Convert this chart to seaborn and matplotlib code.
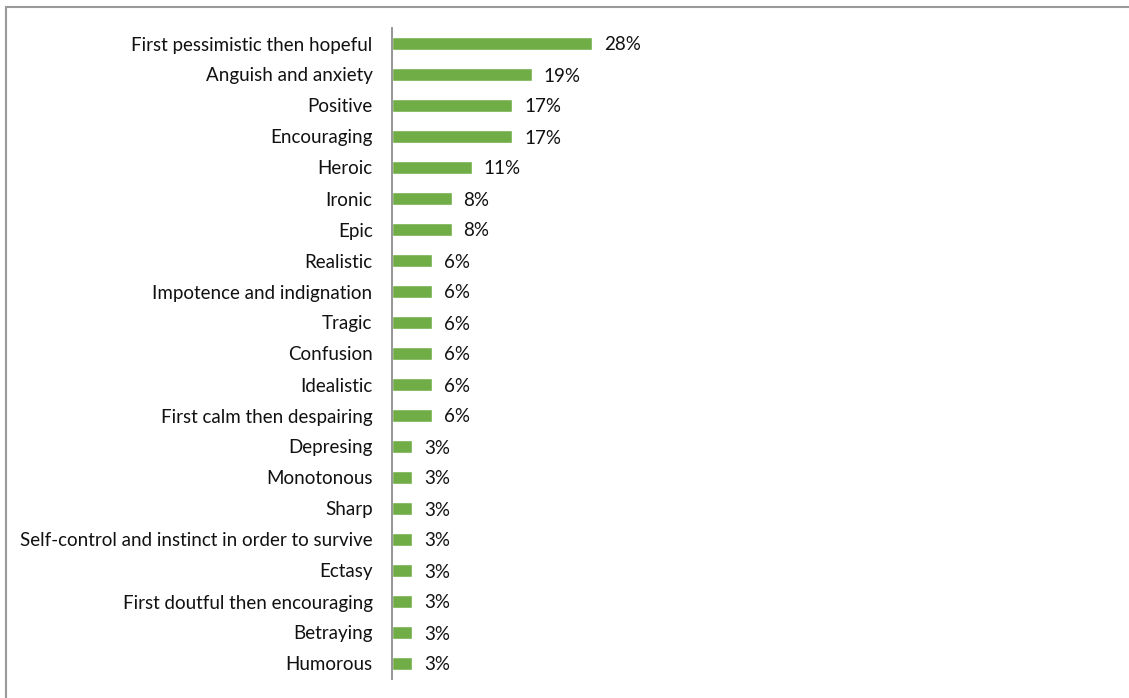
import matplotlib
matplotlib.use("Agg")
import matplotlib.pyplot as plt
import seaborn as sns
import pandas as pd
from matplotlib.patches import Rectangle

categories = [
    "First pessimistic then hopeful",
    "Anguish and anxiety",
    "Positive",
    "Encouraging",
    "Heroic",
    "Ironic",
    "Epic",
    "Realistic",
    "Impotence and indignation",
    "Tragic",
    "Confusion",
    "Idealistic",
    "First calm then despairing",
    "Depresing",
    "Monotonous",
    "Sharp",
    "Self-control and instinct in order to survive",
    "Ectasy",
    "First doutful then encouraging",
    "Betraying",
    "Humorous",
]
# share of responses, in percent
percent = [27.8, 19.4, 16.7, 16.7, 11.1, 8.3, 8.3, 5.6, 5.6, 5.6, 5.6, 5.6, 5.6,
           2.8, 2.8, 2.8, 2.8, 2.8, 2.8, 2.8, 2.8]

df = pd.DataFrame({"category": categories, "percent": percent})

sns.set_theme(style="white")
plt.rcParams["font.family"] = ["Lato", "DejaVu Sans"]

W, H = 1129, 698
fig = plt.figure(figsize=(W / 100, H / 100), dpi=100)
ax_left, ax_right, ax_top, ax_bottom = 392, 1112, 28, 679
ax = fig.add_axes([ax_left / W, 1 - ax_bottom / H,
                   (ax_right - ax_left) / W, (ax_bottom - ax_top) / H])

sns.barplot(data=df, x="percent", y="category", orient="h", color="#70AD47",
            saturation=1, width=0.42, ax=ax)

ax.set_xlim(0, 100)
ax.set_ylim(len(categories) - 0.5, -0.5)
ax.set_xlabel("")
ax.set_ylabel("")
ax.set_xticks([])
ax.tick_params(axis="y", length=0, pad=14, labelsize=13.5, labelcolor="#111111")
for lbl in ax.get_yticklabels():
    lbl.set_verticalalignment("center_baseline")
for side in ("top", "right", "bottom"):
    ax.spines[side].set_visible(False)
ax.spines["left"].set_color("#8c8c8c")
ax.spines["left"].set_linewidth(1.3)

for i, v in enumerate(percent):
    ax.annotate(f"{v:.0f}%", xy=(v, i), xytext=(8.5, 0), textcoords="offset points",
                ha="left", va="center_baseline", fontsize=13.5, color="#111111")

# chart-area frame
fig.patches.append(Rectangle((6 / W, -0.05), 1.2, 1 - 7 / H + 0.05,
                             transform=fig.transFigure, fill=False,
                             edgecolor="#9a9a9a", linewidth=1.5))

fig.savefig("out.png", dpi=100, facecolor="white")
